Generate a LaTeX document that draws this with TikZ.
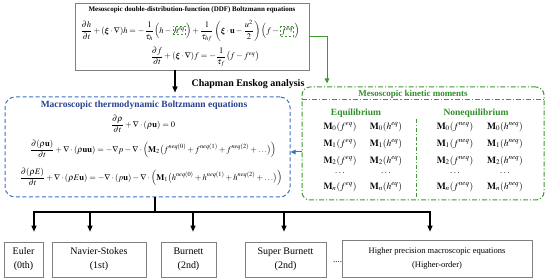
\documentclass[tikz,border=0pt]{standalone}
\usepackage{amsmath,amssymb,bm}
\usepackage{mathptmx}
\usepackage{fontspec}
\setmainfont{Liberation Serif}
\usetikzlibrary{arrows.meta,positioning}

\definecolor{ddfgray}{HTML}{808080}
\definecolor{macroblue}{HTML}{3E70C4}
\definecolor{titleblue}{HTML}{27438F}
\definecolor{mesogreen}{HTML}{3D9A30}
\definecolor{textgreen}{HTML}{2F8F2A}

\newcommand{\eqmark}[1]{\tikz[baseline=0pt]\node[anchor=base,draw=mesogreen,line width=0.9pt,dash pattern=on 2pt off 2pt,inner sep=1pt]{$#1$};}

\begin{document}
\begin{tikzpicture}[
    x=1pt, y=-1pt,
    ddfbox/.style={draw=ddfgray, line width=0.8pt},
    macrobox/.style={draw=macroblue, line width=1pt, rounded corners=10pt, dash pattern=on 4pt off 2.5pt},
    momentbox/.style={draw=mesogreen, line width=1pt, rounded corners=8pt, dash pattern=on 5pt off 2pt on 1.2pt off 2pt},
    orderbox/.style={draw=ddfgray, line width=0.7pt, minimum height=35pt, align=center, font=\fontsize{10}{14}\selectfont},
    eqn/.style={font=\fontsize{8.5}{10}\selectfont, inner sep=0pt},
    moment/.style={font=\fontsize{9.5}{11}\selectfont, inner sep=0pt},
    arrow/.style={-{Triangle[length=6pt,width=5pt]}, line width=1.1pt},
    line/.style={line width=1.1pt},
]
    \useasboundingbox (0,0) rectangle (550,278);

    % mesoscopic DDF equations
    \node[ddfbox, minimum width=234pt, minimum height=67pt] (ddf) at (192,36.5) {};
    \node[font=\fontsize{7}{8}\selectfont\bfseries, inner sep=0pt] (ddftitle) at (192,10) {Mesoscopic double-distribution-function (DDF) Boltzmann equations};
    \node[eqn] (ddfh) at (190,31) {$\dfrac{\partial h}{\partial t}+(\bm{\xi}\cdot\nabla)h=-\dfrac{1}{\tau_h}\Bigl(h-\eqmark{h^{eq}}\Bigr)+\dfrac{1}{\tau_{hf}}\left(\bm{\xi}\cdot\mathbf{u}-\dfrac{u^2}{2}\right)\Bigl(f-\eqmark{f^{eq}}\Bigr)$};
    \node[eqn] (ddff) at (205,57) {$\dfrac{\partial f}{\partial t}+(\bm{\xi}\cdot\nabla)f=-\dfrac{1}{\tau_f}\bigl(f-f^{eq}\bigr)$};

    % macroscopic equations
    \node[macrobox, minimum width=285pt, minimum height=100pt] (macro) at (147.5,147) {};
    \node[font=\fontsize{9.5}{11}\selectfont\bfseries, text=titleblue, inner sep=0pt] (macrotitle) at (144,105) {Macroscopic thermodynamic Boltzmann equations};
    \node[eqn] (mass) at (143,124) {$\dfrac{\partial\rho}{\partial t}+\nabla\cdot(\rho\mathbf{u})=0$};
    \node[eqn] (momentum) at (153,149) {$\dfrac{\partial(\rho\mathbf{u})}{\partial t}+\nabla\cdot(\rho\mathbf{uu})=-\nabla p-\nabla\cdot\Bigl(\mathbf{M}_2\bigl(f^{neq(0)}+f^{neq(1)}+f^{neq(2)}+\ldots\bigr)\Bigr)$};
    \node[eqn] (energy) at (151,177) {$\dfrac{\partial(\rho E)}{\partial t}+\nabla\cdot(\rho E\mathbf{u})=-\nabla\cdot(p\mathbf{u})-\nabla\cdot\Bigl(\mathbf{M}_1\bigl(h^{neq(0)}+h^{neq(1)}+h^{neq(2)}+\ldots\bigr)\Bigr)$};

    % kinetic moments
    \node[momentbox, minimum width=242pt, minimum height=113pt] (moments) at (423,143.5) {};
    \draw[draw=mesogreen, line width=1pt, dash pattern=on 5pt off 2pt on 1.2pt off 2pt] ([yshift=-13.5pt]moments.north west) -- ([yshift=-13.5pt]moments.north east);
    \node[font=\fontsize{9}{10}\selectfont\bfseries, text=textgreen, inner sep=0pt] (momtitle) at (413,94) {Mesoscopic kinetic moments};
    \node[font=\fontsize{9.5}{11}\selectfont\bfseries, text=textgreen, inner sep=0pt] (equil) at (356,113) {Equilibrium};
    \node[font=\fontsize{9.5}{11}\selectfont\bfseries, text=textgreen, inner sep=0pt] (nonequil) at (476,113) {Nonequilibrium};
    \draw[draw=mesogreen, line width=1pt, dash pattern=on 4pt off 2pt on 1.2pt off 2pt] (416,119) -- (416,197);
    \foreach \k/\yy in {0/127,1/144,2/161,n/187} {
        \node[moment] (feq-\k) at (340,\yy) {$\mathbf{M}_\k(f^{eq})$};
        \node[moment] (heq-\k) at (386,\yy) {$\mathbf{M}_\k(h^{eq})$};
        \node[moment] (fneq-\k) at (455,\yy) {$\mathbf{M}_\k(f^{neq})$};
        \node[moment] (hneq-\k) at (505,\yy) {$\mathbf{M}_\k(h^{neq})$};
    }
    \foreach \xx/\nm in {340/a,386/b,455/c,505/d}
        \node[moment] (dots-\nm) at (\xx,173) {$\ldots$};

    % links
    \draw[arrow, shorten >=4pt] ([xshift=-17pt]ddf.south) -- ([xshift=-17pt]ddf.south |- macro.north);
    \node[font=\fontsize{10}{12}\selectfont\bfseries, inner sep=0pt] (chapman) at (248,84) {Chapman Enskog analysis};
    \draw[-{Triangle[length=5pt,width=4.5pt]}, draw=mesogreen, line width=1pt, shorten >=3pt] (ddf.east) -| ([xshift=-96pt]moments.north);
    \coordinate (bfrom) at ([yshift=-8.5pt]moments.west);
    \draw[-{Triangle[length=5pt,width=4.5pt]}, draw=macroblue, line width=1pt] (bfrom) -- (bfrom -| macro.east);

    % orders of macroscopic equations
    \node[orderbox, minimum width=39pt] (euler) at (23.5,259.5) {Euler\\(0th)};
    \node[orderbox, minimum width=94pt] (navier) at (99,259.5) {Navier-Stokes\\(1st)};
    \node[orderbox, minimum width=55pt] (burnett) at (188.5,259.5) {Burnett\\(2nd)};
    \node[orderbox, minimum width=81pt] (super) at (285.5,259.5) {Super Burnett\\(2nd)};
    \node[orderbox, minimum width=190pt, minimum height=37pt, font=\fontsize{8.5}{14}\selectfont] (higher) at (437,258.5) {Higher precision macroscopic equations\\(Higher-order)};
    \node[font=\fontsize{9}{10}\selectfont, inner sep=0pt] (more) at (337.5,262) {....};

    \coordinate (bus) at (155,212);
    \draw[line] (macro.south -| bus) -- (bus);
    \draw[arrow, shorten >=10pt] (bus) -| ([xshift=10.5pt]euler.north);
    \draw[arrow, shorten >=10pt] (bus) -| ([xshift=-9pt]navier.north);
    \draw[arrow, shorten >=10pt] (bus) -| ([xshift=4.5pt]burnett.north);
    \draw[arrow, shorten >=10pt] (bus) -| ([xshift=-1.5pt]super.north);
    \draw[arrow, shorten >=8pt] (bus) -| ([xshift=-7pt]higher.north);
\end{tikzpicture}
\end{document}
